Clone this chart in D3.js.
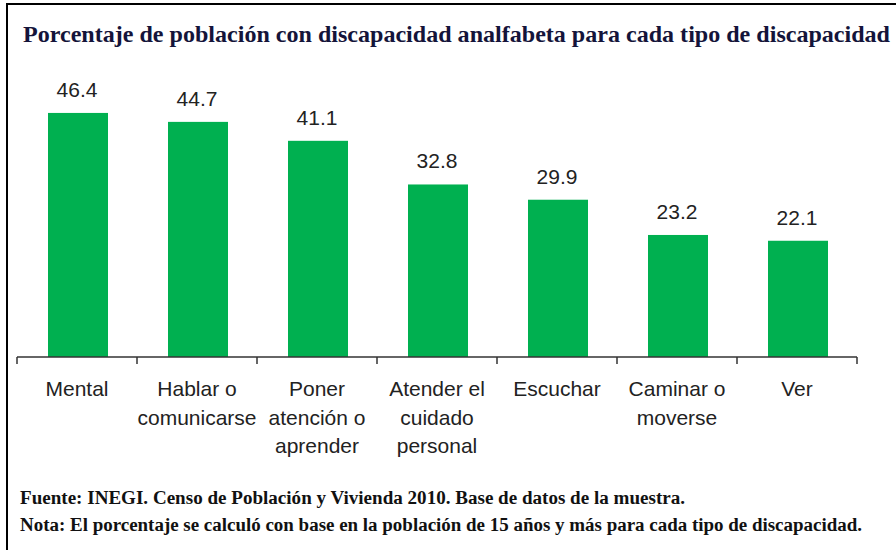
<!DOCTYPE html>
<html>
<head>
<meta charset="utf-8">
<script src="https://cdn.jsdelivr.net/npm/d3@7"></script>
<style>
  body { margin: 0; background: #fff; }
  svg { display: block; }
</style>
</head>
<body>
<svg id="chart"></svg>
<script>
const categories = ["Mental", "Hablar o\ncomunicarse", "Poner\natención o\naprender", "Atender el\ncuidado\npersonal", "Escuchar", "Caminar o\nmoverse", "Ver"];
const values = [46.4, 44.7, 41.1, 32.8, 29.9, 23.2, 22.1];
const title = "Porcentaje de población con discapacidad analfabeta para cada tipo de discapacidad";
const notes = [
  "Fuente: INEGI. Censo de Población y Vivienda 2010. Base de datos de la muestra.",
  "Nota: El porcentaje se calculó con base en la población de 15 años y más para cada tipo de discapacidad."
];

const width = 896, height = 550;
const svg = d3.select("#chart").attr("width", width).attr("height", height);

// frame (left + top edges only, the rest is cropped)
svg.append("path")
  .attr("d", "M7,550 V4 H896")
  .attr("fill", "none")
  .attr("stroke", "#000")
  .attr("stroke-width", 2);

svg.append("text")
  .attr("x", 23).attr("y", 42)
  .attr("textLength", 867).attr("lengthAdjust", "spacingAndGlyphs")
  .style("font-family", "'Liberation Serif', 'Times New Roman', serif")
  .style("font-weight", "bold").style("font-size", "22.5px")
  .attr("fill", "#14143a")
  .text(title);

const x = d3.scaleBand()
  .domain(categories)
  .range([17, 857])
  .paddingInner(0.5).paddingOuter(0.25);

const y = d3.scaleLinear()
  .domain([0, 50])
  .range([357, 94]);

svg.append("g")
  .selectAll("rect")
  .data(values)
  .join("rect")
  .attr("x", (d, i) => x(categories[i]) + 1)
  .attr("y", d => y(d))
  .attr("width", x.bandwidth())
  .attr("height", d => y(0) - y(d))
  .attr("fill", "#00b050");

svg.append("g")
  .selectAll("text")
  .data(values)
  .join("text")
  .attr("x", (d, i) => x(categories[i]) + x.bandwidth() / 2)
  .attr("y", d => y(d) - 16)
  .attr("text-anchor", "middle")
  .style("font-family", "'Liberation Sans', Arial, sans-serif")
  .style("font-size", "21px")
  .attr("fill", "#222")
  .text(d => d.toFixed(1));

// axis: baseline with ticks between categories
const axis = svg.append("g").attr("transform", `translate(0,${y(0)})`);
const step = x.step();
const edges = d3.range(categories.length + 1).map(i => 17 + i * step);
axis.append("line")
  .attr("x1", 17).attr("x2", 857)
  .attr("stroke", "#333").attr("stroke-width", 1.5);
axis.selectAll(".tk")
  .data(edges)
  .join("line")
  .attr("class", "tk")
  .attr("x1", d => d).attr("x2", d => d)
  .attr("y1", 0).attr("y2", 7)
  .attr("stroke", "#333").attr("stroke-width", 1.5);

const labels = svg.append("g")
  .selectAll("text")
  .data(categories)
  .join("text")
  .attr("x", d => x(d) + x.bandwidth() / 2)
  .attr("y", 396)
  .attr("text-anchor", "middle")
  .style("font-family", "'Liberation Sans', Arial, sans-serif")
  .style("font-size", "21px")
  .attr("fill", "#222");
labels.each(function(d) {
  const t = d3.select(this);
  d.split("\n").forEach((line, i) => {
    t.append("tspan")
      .attr("x", x(d) + x.bandwidth() / 2)
      .attr("dy", i === 0 ? 0 : 28.5)
      .text(line);
  });
});

svg.append("g")
  .selectAll("text")
  .data(notes)
  .join("text")
  .attr("x", 20)
  .attr("y", (d, i) => 504 + i * 27)
  .attr("textLength", (d, i) => i === 0 ? 665 : 842)
  .attr("lengthAdjust", "spacingAndGlyphs")
  .style("font-family", "'Liberation Serif', 'Times New Roman', serif")
  .style("font-weight", "bold").style("font-size", "18px")
  .attr("fill", "#111")
  .text(d => d);
</script>
</body>
</html>
